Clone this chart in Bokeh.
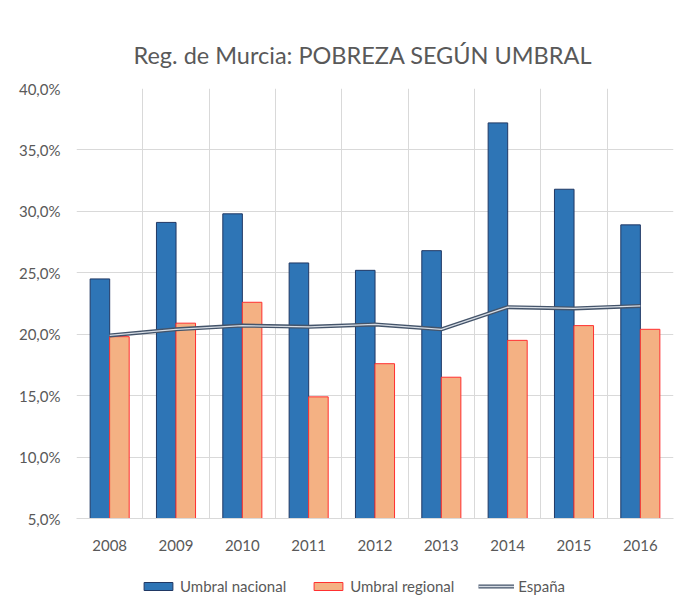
from bokeh.plotting import figure
from bokeh.layouts import column
from bokeh.models import (ColumnDataSource, FixedTicker, Legend, LegendItem)
from bokeh.embed import file_html
from bokeh.resources import INLINE

years = ["2008", "2009", "2010", "2011", "2012", "2013", "2014", "2015", "2016"]
umbral_nacional = [24.5, 29.1, 29.8, 25.8, 25.2, 26.8, 37.2, 31.8, 28.9]
umbral_regional = [19.8, 20.9, 22.6, 14.9, 17.6, 16.5, 19.5, 20.7, 20.4]
espana = [19.9, 20.4, 20.7, 20.6, 20.8, 20.4, 22.2, 22.1, 22.3]
y_ticks = [5, 10, 15, 20, 25, 30, 35, 40]
y_tick_labels = ["5,0%", "10,0%", "15,0%", "20,0%", "25,0%", "30,0%", "35,0%", "40,0%"]
series_names = ["Umbral nacional", "Umbral regional", "España"]

FONT = "Lato"
GRAY = "#595959"
BLUE, BLUE_LINE = "#2E75B6", "#203864"
ORANGE, ORANGE_LINE = "#F4B183", "#FF3030"
LINE_OUT, LINE_IN = "#44546A", "#D6DCE4"

xs = list(range(len(years)))
src = ColumnDataSource(dict(
    x=xs,
    xn=[x - 0.147 for x in xs],
    xr=[x + 0.147 for x in xs],
    nac=umbral_nacional,
    reg=umbral_regional,
    esp=espana,
))

p = figure(width=675, height=568, output_backend="svg", toolbar_location=None,
           x_range=(-0.5, len(years) - 0.5), y_range=(5, 40),
           min_border_left=76, min_border_right=2, min_border_top=88,
           min_border_bottom=50,
           title="Reg. de Murcia: POBREZA SEGÚN UMBRAL")
p.outline_line_color = None
p.title.align = "left"
p.title.offset = 57
p.title.text_font = FONT
p.title.text_font_size = "23.5px"
p.title.text_font_style = "normal"
p.title.text_color = GRAY
p.title.standoff = 40

p.vbar(x="xn", top="nac", bottom=5, width=0.295, source=src,
       fill_color=BLUE, line_color=BLUE_LINE, line_width=1)
p.vbar(x="xr", top="reg", bottom=5, width=0.295, source=src,
       fill_color=ORANGE, line_color=ORANGE_LINE, line_width=1)
p.line(x="x", y="esp", source=src, line_color=LINE_OUT, line_width=4)
p.line(x="x", y="esp", source=src, line_color=LINE_IN, line_width=1.3)

# axes
p.xaxis.ticker = FixedTicker(ticks=xs)
p.xaxis.major_label_overrides = {i: y for i, y in enumerate(years)}
p.xaxis.major_tick_line_color = None
p.xaxis.minor_tick_line_color = None
p.xaxis.axis_line_color = "#d9d9d9"
p.xaxis.major_label_text_font = FONT
p.xaxis.major_label_text_font_size = "15px"
p.xaxis.major_label_text_color = GRAY
p.xaxis.major_label_standoff = 15

p.yaxis.ticker = FixedTicker(ticks=y_ticks)
p.yaxis.major_label_overrides = {t: l for t, l in zip(y_ticks, y_tick_labels)}
p.yaxis.major_tick_line_color = None
p.yaxis.minor_tick_line_color = None
p.yaxis.axis_line_color = None
p.yaxis.major_label_text_font = FONT
p.yaxis.major_label_text_font_size = "15px"
p.yaxis.major_label_text_color = GRAY
p.yaxis.major_label_standoff = 10

p.xgrid.ticker = FixedTicker(ticks=[x - 0.5 for x in xs] + [len(years) - 0.5])
p.xgrid.grid_line_color = "#d9d9d9"
p.ygrid.ticker = FixedTicker(ticks=y_ticks)
p.ygrid.grid_line_color = "#d9d9d9"

# legend strip (swatch renderers placed outside the visible range)
lg = figure(width=675, height=29, output_backend="svg", toolbar_location=None,
            x_range=(0, 1), y_range=(0, 1), min_border=0,
            x_axis_location=None, y_axis_location=None)
lg.grid.visible = False
lg.outline_line_color = None
off = ColumnDataSource(dict(x=[-10, -11], y=[-10, -11]))
s1 = lg.vbar(x="x", top="y", width=0.1, source=off,
             fill_color=BLUE, line_color=BLUE_LINE, line_width=1)
s2 = lg.vbar(x="x", top="y", width=0.1, source=off,
             fill_color=ORANGE, line_color=ORANGE_LINE, line_width=1)
s3 = lg.line(x="x", y="y", source=off, line_color=LINE_OUT, line_width=4)
s4 = lg.line(x="x", y="y", source=off, line_color=LINE_IN, line_width=1.3)

legend = Legend(items=[
    LegendItem(label=series_names[0], renderers=[s1]),
    LegendItem(label=series_names[1], renderers=[s2]),
    LegendItem(label=series_names[2], renderers=[s3, s4]),
], orientation="horizontal", location=(64, 2),
    glyph_width=36, glyph_height=10, label_standoff=4, spacing=24,
    label_text_font=FONT, label_text_font_size="15px", label_text_color=GRAY,
    border_line_color=None, background_fill_alpha=0, margin=0, padding=2)
lg.add_layout(legend)

layout = column(p, lg, spacing=0)
open("out.html", "w").write(file_html(layout, INLINE))
